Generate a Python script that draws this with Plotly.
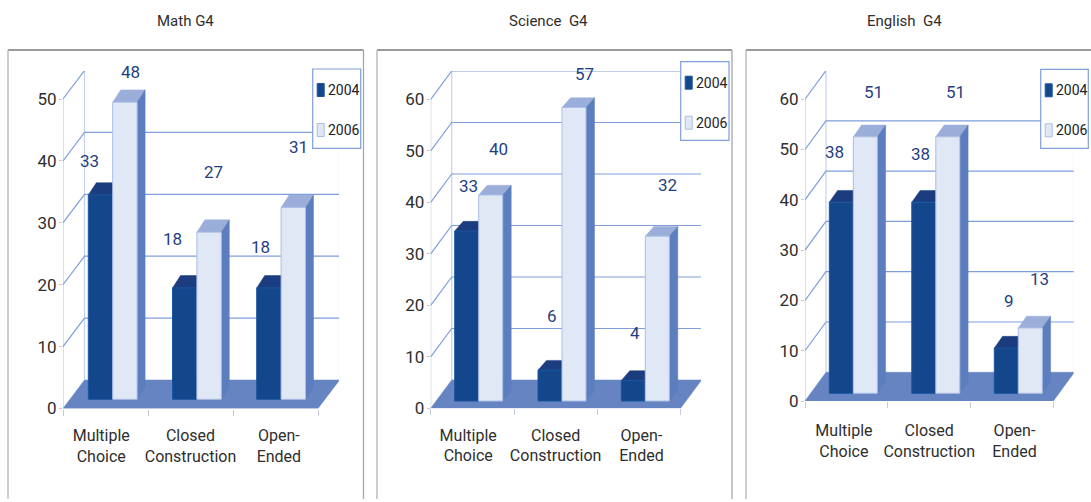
import plotly.graph_objects as go

WIDTH, HEIGHT = 1091, 502
FONT = "Roboto, sans-serif"

categories = ["Multiple<br>Choice", "Closed<br>Construction", "Open-<br>Ended"]
series_years = ["2004", "2006"]

math_2004 = [33, 18, 18]
math_2006 = [48, 27, 31]
science_2004 = [33, 6, 4]
science_2006 = [40, 57, 32]
english_2004 = [38, 38, 9]
english_2006 = [51, 51, 13]

y_ticks_math = [0, 10, 20, 30, 40, 50]
y_ticks_other = [0, 10, 20, 30, 40, 50, 60]

# Face colours of the extruded columns
DARK_FRONT, DARK_TOP, DARK_EDGE = "#13468A", "#1B3C7E", "#1A55A0"
LIGHT_FRONT, LIGHT_TOP, LIGHT_EDGE = "#E1E8F5", "#9BAEDA", "#A9BDE3"
SIDE = "#5C7EBE"
FLOOR = "#6784C2"
GRID = "#7F9EDA"
WALL = "#C3D1EF"
AXIS = "#C4CAD6"
LABEL = "#1F3F7F"
TEXT = "#2E2E2E"

# Panel geometry in page pixels
panels = [
    dict(title="Math G4", title_x=185, frame=(8, 363.5),
         left=63, right=339, y0=408.5, top=71, cat=85, sy=6.19,
         wall=(21.5, 28.5), base=399.3, first=112.7, pitch=84.2,
         bar=24.4, bar_depth=(8, 12.3), ticks=y_ticks_math,
         a=math_2004, b=math_2006, legend=(312.7, 360.7, 69, 148.3),
         shift_a=[(-11, 33.7), (-12.5, 49), (-8.5, 41)],
         shift_b=[(5.5, 30), (4, 60), (5.5, 60)],
         tick_label_x=[0.45, 1.5, 2.54], label_gap=12),
    dict(title="Science\u00a0 G4", title_x=548, frame=(377, 732),
         left=430.7, right=701, y0=408.3, top=71, cat=83.3, sy=5.15,
         wall=(21, 28.3), base=401, first=478.7, pitch=83.3,
         bar=24, bar_depth=(8.5, 9.7), ticks=y_ticks_other,
         a=science_2004, b=science_2006, legend=(680.7, 729, 61.7, 140.3),
         shift_a=[(1.5, 45), (2, 54), (1.3, 47)],
         shift_b=[(8, 46), (10, 33), (10.5, 51)],
         tick_label_x=[0.45, 1.5, 2.53], label_gap=12),
    dict(title="English\u00a0 G4", title_x=904.7, frame=(746, 1100),
         left=805, right=1073.7, y0=401, top=71, cat=82.8, sy=5.03,
         wall=(21, 28.7), base=393.3, first=853.3, pitch=82.5,
         bar=24, bar_depth=(8.3, 11.7), ticks=y_ticks_other,
         a=english_2004, b=english_2006, legend=(1040.7, 1088.3, 69.3, 148.3),
         shift_a=[(-6.7, 50), (-3.7, 48), (3, 47)],
         shift_b=[(7.7, 45), (7.3, 45), (9.3, 49)],
         tick_label_x=[0.47, 1.5, 2.53], label_gap=15),
]

fig = go.Figure()
shapes, annotations = [], []


def polygon(x, y, color, xa, ya, z, name):
    fig.add_trace(go.Scatter(
        x=x + x[:1], y=y + y[:1], mode="lines", fill="toself", fillcolor=color,
        line=dict(color=color, width=0.5), hoverinfo="skip", showlegend=False,
        xaxis=xa, yaxis=ya, zorder=z, name=name))


def line(x, y, color, width, xa, ya):
    fig.add_trace(go.Scatter(
        x=x, y=y, mode="lines", line=dict(color=color, width=width),
        hoverinfo="skip", showlegend=False, xaxis=xa, yaxis=ya, zorder=0))


for n, p in enumerate(panels, start=1):
    xa, ya = ("x", "y") if n == 1 else (f"x{n}", f"y{n}")
    xname, yname = ("xaxis", "yaxis") if n == 1 else (f"xaxis{n}", f"yaxis{n}")
    sx, sy = p["cat"], p["sy"]
    wdx, wdy = p["wall"][0] / sx, p["wall"][1] / sy
    x_end = (p["right"] - p["left"]) / sx
    y_end = (p["y0"] - p["top"]) / sy
    ticks = p["ticks"]

    # Walls and gridlines of the box behind the columns
    line([0, 0], [0, ticks[-1]], AXIS, 1.2, xa, ya)
    line([wdx, wdx], [wdy, ticks[-1] + wdy], WALL, 1.2, xa, ya)
    line([3 + wdx, 3 + wdx], [wdy, ticks[-1] + wdy], WALL, 1.2, xa, ya)
    for v in ticks[1:]:
        line([0, wdx, 3 + wdx], [v, v + wdy, v + wdy], GRID, 1.2, xa, ya)
    polygon([0, 3, 3 + wdx, wdx], [0, 0, wdy, wdy], FLOOR, xa, ya, 1, "floor")

    # Extruded columns: the front is a bar, top and side are filled polygons
    width = p["bar"] / sx
    base = (p["y0"] - p["base"]) / sy
    bdx, bdy = p["bar_depth"][0] / sx, p["bar_depth"][1] / sy
    centers = [(p["first"] + i * p["pitch"] - p["left"]) / sx for i in range(3)]
    groups = [(p["a"], -width / 2, DARK_FRONT, DARK_TOP, DARK_EDGE, 2, series_years[0]),
              (p["b"], width / 2, LIGHT_FRONT, LIGHT_TOP, LIGHT_EDGE, 4, series_years[1])]
    for values, off, front, top, edge, z, year in groups:
        xs = [c + off for c in centers]
        for xc, v in zip(xs, values):
            l, r = xc - width / 2, xc + width / 2
            polygon([l, r, r + bdx, l + bdx],
                    [base + v, base + v, base + v + bdy, base + v + bdy], top, xa, ya, z, "top")
            polygon([r, r + bdx, r + bdx, r],
                    [base, base + bdy, base + v + bdy, base + v], SIDE, xa, ya, z, "side")
        fig.add_trace(go.Bar(
            x=xs, y=values, base=[base] * 3, width=width, name=year,
            marker=dict(color=front, line=dict(color=edge, width=1)),
            hoverinfo="x+y", showlegend=False, xaxis=xa, yaxis=ya, zorder=z + 1))

    # Value labels float above the columns
    for values, off, shifts in [(p["a"], -width / 2, p["shift_a"]), (p["b"], width / 2, p["shift_b"])]:
        for c, v, (sh_x, sh_y) in zip(centers, values, shifts):
            annotations.append(dict(
                x=c + off, y=base + v, xref=xa, yref=ya, text=str(v), showarrow=False,
                xanchor="center", yanchor="middle", xshift=sh_x, yshift=sh_y,
                font=dict(family=FONT, size=17, color=LABEL)))

    fig.update_layout({
        xname: dict(
            domain=[p["left"] / WIDTH, min(p["right"] / WIDTH, 1)], range=[0, x_end],
            anchor=ya, automargin=False, showgrid=False, zeroline=False, showline=False,
            tickmode="array", tickvals=p["tick_label_x"], ticktext=categories,
            ticks="outside", ticklen=p["label_gap"], tickcolor="rgba(0,0,0,0)", tickwidth=1,
            tickfont=dict(family=FONT, size=16, color=TEXT),
            minor=dict(tickmode="array", tickvals=[0, 1, 2, 3], ticks="outside",
                       ticklen=6, tickcolor=AXIS, tickwidth=1.2, showgrid=False),
            fixedrange=True),
        yname: dict(
            domain=[1 - p["y0"] / HEIGHT, 1 - p["top"] / HEIGHT], range=[0, y_end],
            anchor=xa, automargin=False, showgrid=False, zeroline=False, showline=False,
            tickmode="array", tickvals=ticks, ticks="outside", ticklen=3, ticklabelstandoff=-1,
            tickcolor=AXIS, tickwidth=1.2,
            tickfont=dict(family=FONT, size=17, color=TEXT), fixedrange=True),
    })

    # Panel title
    annotations.append(dict(
        x=p["title_x"] / WIDTH, y=1 - 21 / HEIGHT, xref="paper", yref="paper",
        text=p["title"], showarrow=False, xanchor="center", yanchor="middle",
        font=dict(family=FONT, size=15, color=TEXT)))

    # Frame, open at the bottom
    fl, fr = p["frame"]
    px, py = lambda v: v / WIDTH, lambda v: 1 - v / HEIGHT
    for x0, y0, x1, y1, col in [(fl, 50, fr, 50, "#7A7A7A"), (fl, 50, fl, 499, "#B4B4B4"), (fr, 50, fr, 499, "#A6A6A6")]:
        shapes.append(dict(type="line", xref="paper", yref="paper",
                           x0=px(x0), y0=py(y0), x1=px(x1), y1=py(y1),
                           line=dict(color=col, width=1.3), layer="below"))

    # Legend box with its two swatches
    bl, br, bt, bb = p["legend"]
    shapes.append(dict(type="rect", xref="paper", yref="paper", x0=px(bl), x1=px(br),
                       y0=py(bb), y1=py(bt), fillcolor="white",
                       line=dict(color="#7F9EDA", width=1.2), layer="above"))
    for k, (year, col, edge) in enumerate(zip(series_years, [DARK_FRONT, LIGHT_FRONT], [DARK_EDGE, LIGHT_EDGE])):
        cy = bt + 21 + k * 40
        shapes.append(dict(type="rect", xref="paper", yref="paper",
                           x0=px(bl + 4.5), x1=px(bl + 11.5), y0=py(cy + 6.5), y1=py(cy - 6.5),
                           fillcolor=col, line=dict(color=edge, width=1), layer="above"))
        annotations.append(dict(
            x=px(bl + 14), y=py(cy), xref="paper", yref="paper", text=year, showarrow=False,
            xanchor="left", yanchor="middle", borderpad=0,
            font=dict(family=FONT, size=14, color="#222222")))

fig.update_layout(
    width=WIDTH, height=HEIGHT, autosize=False, showlegend=False,
    margin=dict(l=0, r=0, t=0, b=0, autoexpand=False), paper_bgcolor="white",
    plot_bgcolor="rgba(0,0,0,0)", barmode="overlay", shapes=shapes, annotations=annotations,
)

fig.write_html("out.html", config=dict(displayModeBar=False))
